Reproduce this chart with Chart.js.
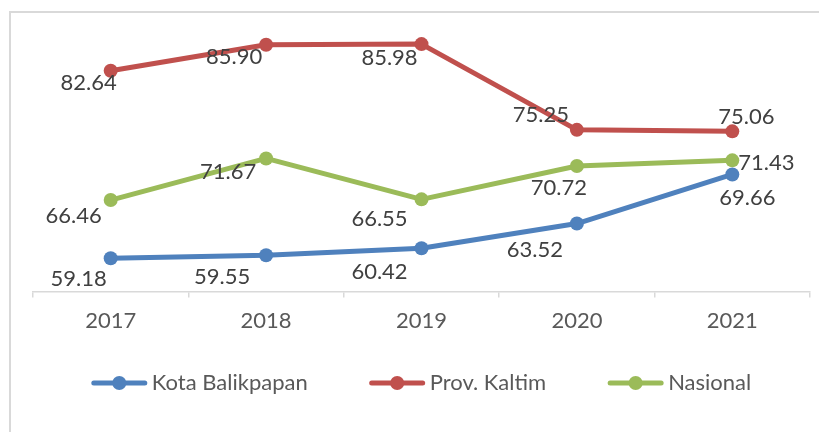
<!DOCTYPE html>
<html><head><meta charset="utf-8">
<script src="https://cdn.jsdelivr.net/npm/chart.js@4/dist/chart.umd.min.js"></script>
<style>html,body{margin:0;padding:0;background:#fff;} #wrap{width:819px;height:432px;position:relative;}</style>
</head><body><div id="wrap"><canvas id="c" width="819" height="432"></canvas></div>
<script>
const categories = ['2017', '2018', '2019', '2020', '2021'];
const kotaBalikpapan = [59.18, 59.55, 60.42, 63.52, 69.66];
const provKaltim = [82.64, 85.90, 85.98, 75.25, 75.06];
const nasional = [66.46, 71.67, 66.55, 70.72, 71.43];
const seriesNames = ['Kota Balikpapan', 'Prov. Kaltim', 'Nasional'];
const yMin = 55, yMax = 90;

// label placement offsets (dx, dy) from each point, per series
const labelOffsets = [
  [[-32, 21], [-44, 22], [-42, 24], [-42, 26], [15, 23]],
  [[-22, 12], [-32, 12], [-32, 14], [-36, -15], [14, -14]],
  [[-37, 16], [-38, 13], [-42, 20], [-18, 22], [34, 3]]
];
const colors = ['#4f81bd', '#c0504d', '#9bbb59'];
const FONT = 'Lato';
const FS = 22;
const TEXT = '#404040';

const frame = {
  id: 'frame',
  beforeDraw(chart) {
    const ctx = chart.ctx;
    ctx.save();
    ctx.strokeStyle = '#d9d9d9';
    ctx.lineWidth = 2;
    ctx.strokeRect(10, 12, 1000, 1000);
    ctx.restore();
  }
};

const valueLabels = {
  id: 'valueLabels',
  afterDatasetsDraw(chart) {
    const ctx = chart.ctx;
    ctx.save();
    ctx.font = FS + 'px ' + FONT;
    ctx.fillStyle = TEXT;
    ctx.textAlign = 'center';
    ctx.textBaseline = 'middle';
    chart.data.datasets.forEach((ds, i) => {
      const meta = chart.getDatasetMeta(i);
      meta.data.forEach((pt, j) => {
        const off = labelOffsets[i][j];
        ctx.fillText(ds.data[j].toFixed(2), pt.x + off[0], pt.y + off[1]);
      });
    });
    ctx.restore();
  }
};

const customLegend = {
  id: 'customLegend',
  afterDraw(chart) {
    const ctx = chart.ctx;
    ctx.save();
    ctx.font = FS + 'px ' + FONT;
    const lineW = 55, gap = 5, itemGap = 62;
    const widths = chart.data.datasets.map(ds => lineW + gap + ctx.measureText(ds.label).width);
    const total = widths.reduce((a, b) => a + b, 0) + itemGap * (widths.length - 1);
    const ca = chart.chartArea;
    let x = (ca.left + ca.right) / 2 - total / 2;
    const y = 383;
    chart.data.datasets.forEach((ds, i) => {
      ctx.strokeStyle = ds.borderColor;
      ctx.lineWidth = 5;
      ctx.lineCap = 'round';
      ctx.beginPath();
      ctx.moveTo(x + 2, y);
      ctx.lineTo(x + lineW - 2, y);
      ctx.stroke();
      ctx.fillStyle = ds.borderColor;
      ctx.beginPath();
      ctx.arc(x + lineW / 2, y, 7, 0, Math.PI * 2);
      ctx.fill();
      ctx.fillStyle = '#595959';
      ctx.textAlign = 'left';
      ctx.textBaseline = 'middle';
      ctx.fillText(ds.label, x + lineW + gap, y);
      x += widths[i] + itemGap;
    });
    ctx.restore();
  }
};

function makeDataset(label, data, color) {
  return {
    label, data,
    borderColor: color, backgroundColor: color,
    pointBackgroundColor: color, pointBorderColor: color,
    borderWidth: 5, pointRadius: 7, pointBorderWidth: 0,
    borderCapStyle: 'round', borderJoinStyle: 'round',
    tension: 0, clip: false
  };
}

function draw() {
  new Chart(document.getElementById('c'), {
    type: 'line',
    data: {
      labels: categories,
      datasets: [
        makeDataset(seriesNames[0], kotaBalikpapan, colors[0]),
        makeDataset(seriesNames[1], provKaltim, colors[1]),
        makeDataset(seriesNames[2], nasional, colors[2])
      ]
    },
    options: {
      responsive: false,
      animation: false,
      layout: { padding: { left: 33, right: 9, top: 12, bottom: 88 } },
      plugins: { legend: { display: false }, tooltip: { enabled: false } },
      scales: {
        x: {
          offset: true,
          grid: { offset: true, drawOnChartArea: false, drawTicks: true, tickLength: 6, color: '#d9d9d9', lineWidth: 1.5 },
          border: { display: true, color: '#d9d9d9', width: 1.5 },
          ticks: { color: '#595959', font: { family: FONT, size: FS }, padding: 10, maxRotation: 0 }
        },
        y: { display: false, min: yMin, max: yMax }
      }
    },
    plugins: [frame, valueLabels, customLegend]
  });
}
if (document.fonts && document.fonts.load) {
  document.fonts.load(FS + 'px ' + FONT).then(draw, draw);
} else { draw(); }
</script>
</body></html>
